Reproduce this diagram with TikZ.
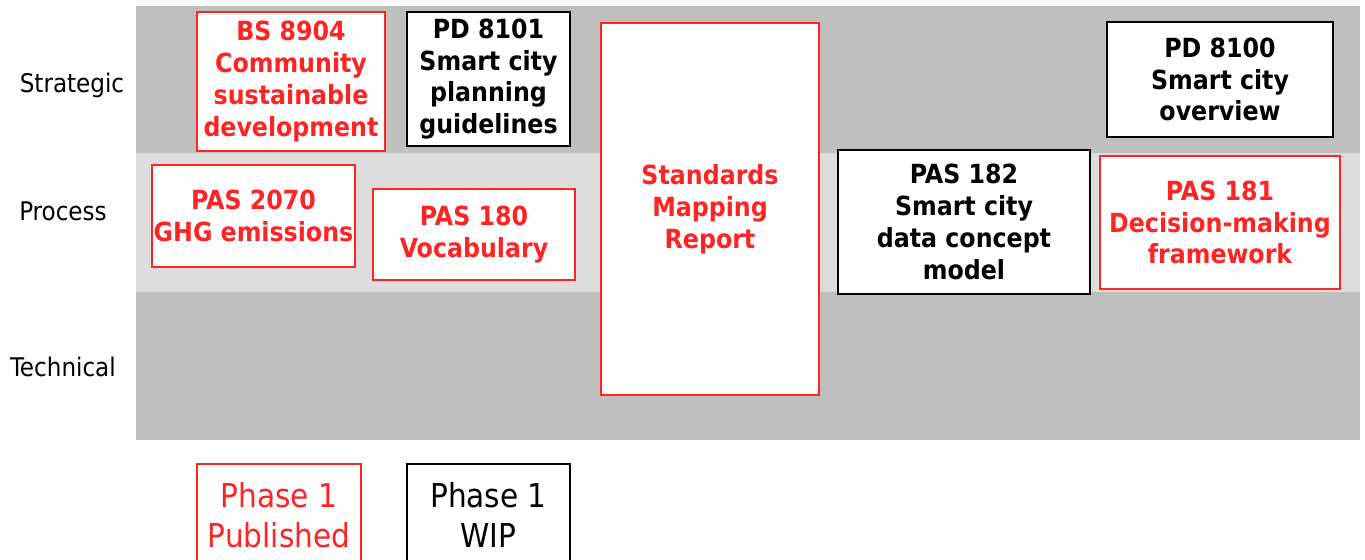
\documentclass[tikz,border=0pt]{standalone}
\usepackage{fontspec}
\setmainfont{DejaVu Sans Condensed}
\usetikzlibrary{positioning}
\definecolor{bandgray}{HTML}{BFBFBF}
\definecolor{lightband}{HTML}{DDDDDD}
\definecolor{stdred}{HTML}{FF2424}

\tikzset{
  doc/.style={draw, fill=white, line width=1.4pt, align=center, inner sep=0pt,
    font=\fontsize{15}{18.1}\selectfont\bfseries},
  pubdoc/.style={doc, draw=stdred, text=stdred},
  wipdoc/.style={doc, draw=black},
  keybox/.style={draw, fill=white, line width=1.2pt, align=center, inner sep=0pt,
    font=\fontsize{18.7}{22.7}\selectfont},
  layer/.style={font=\fontsize{14.6}{17}\selectfont}
}

\begin{document}
\begin{tikzpicture}[x=0.02cm,y=-0.02cm]
\useasboundingbox (0,0) rectangle (1365,560);
% layers
\fill[bandgray] (136,6) rectangle (1360,153);
\fill[lightband] (136,153) rectangle (1360,292);
\fill[bandgray] (136,292) rectangle (1360,440);
\node[layer] (strategic) at (72,85) {Strategic};
\node[layer] (process) at (63,211) {Process};
\node[layer] (technical) at (63,367) {Technical};

% standards
\node[pubdoc, minimum width=3.76cm, minimum height=2.78cm] (bs8904) at (291,81.5)
  {BS 8904\\Community\\sustainable\\development};
\node[wipdoc, minimum width=3.26cm, minimum height=2.68cm] (pd8101) at (488.5,79)
  {PD 8101\\Smart city\\planning\\guidelines};
\node[pubdoc, minimum width=4.36cm, minimum height=7.44cm] (mapping) at (710,209)
  {Standards\\Mapping\\Report};
\node[wipdoc, minimum width=4.52cm, minimum height=2.30cm] (pd8100) at (1220,79.5)
  {PD 8100\\Smart city\\overview};
\node[pubdoc, minimum width=4.06cm, minimum height=2.04cm] (pas2070) at (253.5,216)
  {PAS 2070\\GHG emissions};
\node[pubdoc, minimum width=4.04cm, minimum height=1.82cm] (pas180) at (474,234.5)
  {PAS 180\\Vocabulary};
\node[wipdoc, minimum width=5.04cm, minimum height=2.88cm] (pas182) at (964,222)
  {PAS 182\\Smart city\\data concept\\model};
\node[pubdoc, minimum width=4.80cm, minimum height=2.66cm] (pas181) at (1220,222.5)
  {PAS 181\\Decision-making\\framework};

% key
\node[keybox, draw=stdred, text=stdred, minimum width=3.28cm, minimum height=2.04cm] (published) at (279,515)
  {Phase 1\\Published};
\node[keybox, draw=black, minimum width=3.26cm, minimum height=2.04cm] (wip) at (488.5,515)
  {Phase 1\\WIP};
\end{tikzpicture}
\end{document}
